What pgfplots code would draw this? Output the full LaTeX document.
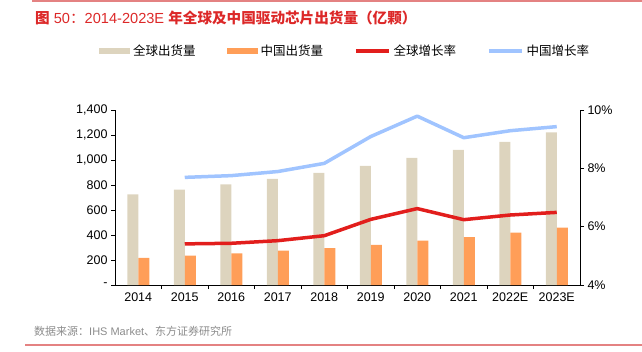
\documentclass[border=0pt]{standalone}
\usepackage{pgfplots}
\pgfplotsset{compat=1.18}
\usepackage{fontspec}
\setmainfont{Liberation Sans}
\newfontfamily\cjk{Noto Sans CJK SC}
\definecolor{beige}{RGB}{221,212,190}
\definecolor{orng}{RGB}{255,158,88}
\definecolor{redl}{RGB}{226,30,28}
\definecolor{bluel}{RGB}{160,196,255}
\definecolor{titlered}{RGB}{220,40,40}
\definecolor{rule}{RGB}{228,130,130}
\begin{document}
\begin{tikzpicture}[x=1pt,y=1pt]
\useasboundingbox (0,0) rectangle (642,351);
\draw[rule, line width=1.5pt] (32,350) -- (642,350);
\draw[rule, line width=1.5pt] (25,6) -- (642,6);
\node[anchor=west, inner sep=0pt, text=titlered, font=\fontsize{14.6}{16}\selectfont] at (35,333)
  {{\cjk\bfseries 图} 50{\cjk ：}2014-2023E {\cjk\bfseries 年全球及中国驱动芯片出货量（亿颗）}};
\node[anchor=west, inner sep=0pt, text=black!45, font=\fontsize{11}{13}\selectfont] at (34,20)
  {{\cjk 数据来源：}IHS Market{\cjk 、东方证券研究所}};
\begin{axis}[
  at={(115pt,66pt)}, anchor=south west, scale only axis,
  width=465pt, height=175pt,
  xmin=-0.5, xmax=9.5, ymin=0, ymax=1400,
  axis x line*=bottom, axis y line*=left,
  axis line style={line width=1pt, black},
  ybar=0pt, bar width=11pt,
  xtick={0,...,9},
  xticklabels={2014,2015,2016,2017,2018,2019,2020,2021,2022E,2023E},
  minor xtick={0.5,1.5,...,8.5},
  major x tick style={draw=none},
  minor tick length=4pt, major tick length=4pt,
  tick align=outside,
  tick style={black, line width=0.8pt},
  ytick={0,200,...,1400},
  yticklabels={-,200,400,600,800,{1,000},{1,200},{1,400}},
  tick label style={font=\fontsize{12.5}{14}\selectfont},
  legend style={at={(-0.0344,1.337)}, anchor=west, draw=none, fill=none, inner sep=0pt,
    legend columns=4, font=\cjk\fontsize{12.5}{14}\selectfont,
    /tikz/every even column/.append style={column sep=28pt},
    nodes={inner xsep=3pt}},
  legend cell align=left,
  clip=false,
]
\addplot[fill=beige, draw=none, legend image code/.code={\fill[beige] (0pt,-3pt) rectangle (31pt,3pt);}]
  coordinates {(0,725) (1,763) (2,805) (3,849) (4,896) (5,952) (6,1016) (7,1080) (8,1145) (9,1220)};
\addlegendentry{全球出货量}
\addplot[fill=orng, draw=none, legend image code/.code={\fill[orng] (0pt,-3pt) rectangle (31pt,3pt);}]
  coordinates {(0,217) (1,234) (2,253) (3,274) (4,295) (5,320) (6,354) (7,383) (8,418) (9,458)};
\addlegendentry{中国出货量}
\addlegendimage{legend image code/.code={\draw[redl, line width=3.5pt] (0pt,0pt) -- (33pt,0pt);}}
\addlegendentry{全球增长率}
\addlegendimage{legend image code/.code={\draw[bluel, line width=3.5pt] (0pt,0pt) -- (33pt,0pt);}}
\addlegendentry{中国增长率}
\end{axis}
\begin{axis}[
  at={(115pt,66pt)}, anchor=south west, scale only axis,
  width=465pt, height=175pt,
  xmin=-0.5, xmax=9.5, ymin=4, ymax=10,
  axis x line=none, axis y line*=right,
  axis line style={line width=1pt, black},
  ytick={4,6,8,10},
  yticklabels={4\%,6\%,8\%,10\%},
  major tick length=4pt, tick align=outside,
  tick style={black, line width=0.8pt},
  tick label style={font=\fontsize{12.5}{14}\selectfont},
]
\addplot[redl, line width=3.5pt, line join=round]
  coordinates {(1,5.41) (2,5.43) (3,5.52) (4,5.69) (5,6.25) (6,6.62) (7,6.24) (8,6.40) (9,6.49)};
\addplot[bluel, line width=3.5pt, line join=round]
  coordinates {(1,7.69) (2,7.75) (3,7.89) (4,8.17) (5,9.09) (6,9.79) (7,9.05) (8,9.29) (9,9.43)};
\end{axis}
\end{tikzpicture}
\end{document}
